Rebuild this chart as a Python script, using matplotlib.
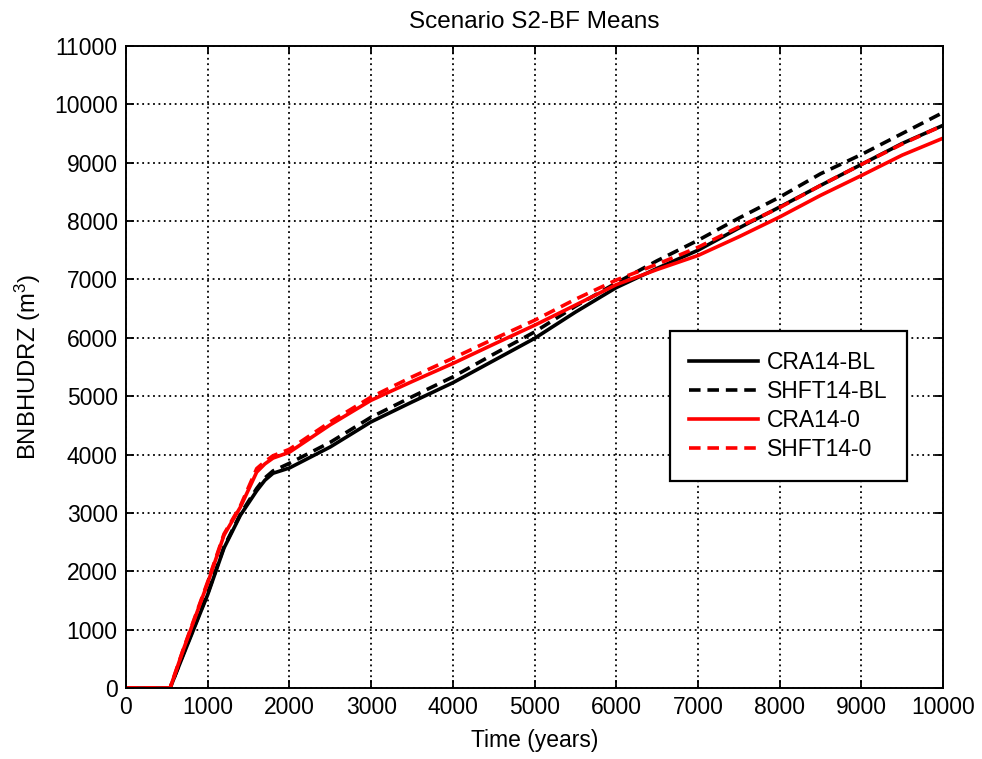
import matplotlib
matplotlib.use("Agg")
import matplotlib.pyplot as plt

plt.rcParams['font.family'] = ['Liberation Sans', 'DejaVu Sans']
plt.rcParams['mathtext.default'] = 'regular'

# values (time in years, volume in m^3)
time = [0, 540, 700, 1000, 1200, 1400, 1600, 1700, 1800, 2000, 2500, 3000, 3500,
        4000, 4500, 5000, 5500, 6000, 6500, 7000, 7500, 8000, 8500, 9000, 9500, 10000]

cra14_bl = [0, 0, 560, 1600, 2400, 2960, 3380, 3560, 3680, 3770, 4130, 4560, 4900,
            5230, 5610, 5990, 6440, 6860, 7190, 7500, 7880, 8240, 8610, 8970, 9330, 9640]
shft14_bl = [0, 0, 580, 1620, 2420, 2980, 3420, 3600, 3720, 3850, 4210, 4640, 4990,
             5330, 5720, 6100, 6540, 6940, 7320, 7670, 8050, 8410, 8810, 9140, 9500, 9860]
cra14_0 = [0, 0, 650, 1800, 2620, 3100, 3700, 3840, 3940, 4040, 4510, 4930, 5250,
           5560, 5890, 6215, 6560, 6910, 7170, 7410, 7730, 8070, 8440, 8780, 9130, 9420]
shft14_0 = [0, 0, 660, 1820, 2640, 3120, 3760, 3880, 3980, 4090, 4560, 4985, 5330,
            5650, 5980, 6300, 6660, 6990, 7260, 7550, 7900, 8230, 8610, 8970, 9320, 9640]

xticks = list(range(0, 10001, 1000))
yticks = list(range(0, 11001, 1000))

fig = plt.figure(figsize=(9.82, 7.59), dpi=100)
ax = fig.add_axes([0.1283, 0.0935, 0.832, 0.8459])

lw = 2.6
dash = (3.2, 1.9)
ax.plot(time, cra14_bl, color='black', lw=lw, label='CRA14-BL')
ax.plot(time, shft14_bl, color='black', lw=lw, linestyle=(0, dash), label='SHFT14-BL')
ax.plot(time, cra14_0, color='red', lw=lw, label='CRA14-0')
ax.plot(time, shft14_0, color='red', lw=lw, linestyle=(0, dash), label='SHFT14-0')

ax.set_xlim(0, 10000)
ax.set_ylim(0, 11000)
ax.set_xticks(xticks)
ax.set_yticks(yticks)
ax.grid(True, color='black', linestyle=(0, (1, 2)), linewidth=1.3)
ax.tick_params(direction='in', top=True, right=True, length=6, width=1.3,
               labelsize=16.5, pad=6)
for s in ax.spines.values():
    s.set_linewidth(1.4)

ax.set_title('Scenario S2-BF Means', fontsize=17.5, pad=13)
ax.set_xlabel('Time (years)', fontsize=16.5, labelpad=7)
ax.set_ylabel('BNBHUDRZ (m$^3$)', fontsize=17.2, labelpad=8)

leg = ax.legend(loc='upper right', bbox_to_anchor=(0.956, 0.556), fontsize=16.5,
                fancybox=False, framealpha=1, edgecolor='black',
                handlelength=3.0, borderpad=0.85, labelspacing=0.27,
                handletextpad=0.4, borderaxespad=0)
leg.get_frame().set_linewidth(1.6)

fig.savefig('out.png', dpi=100)
